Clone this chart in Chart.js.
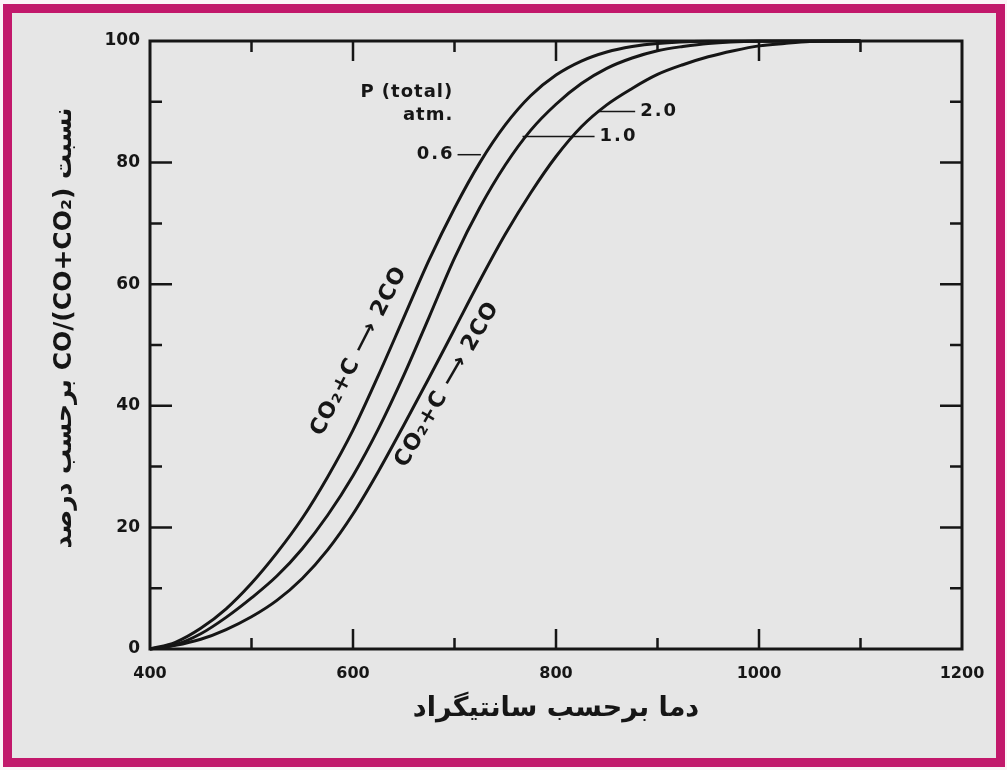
<!DOCTYPE html>
<html>
<head>
<meta charset="utf-8">
<script src="https://cdn.jsdelivr.net/npm/chart.js@4"></script>
<style>
  body { margin: 0; background: #fbf3f7; }
  #frame {
    position: absolute; left: 3px; top: 4px; width: 984px; height: 745px;
    border: 9px solid #c2186b; background: #e6e6e6;
  }
  #myChart { position: absolute; left: 0; top: 0; }
</style>
</head>
<body>
<div id="frame"></div>
<canvas id="myChart" width="1007" height="770"></canvas>
<script>
// values: temperature (C) and % CO in CO+CO2
const pressures = ["0.6", "1.0", "2.0"];

const temp06 = [400, 425, 450, 475, 500, 525, 550, 575, 600, 625, 650, 675, 700, 725, 750, 775, 800, 825, 850, 875, 900, 950, 1000, 1100];
const co06 = [0, 1.1, 3.4, 6.6, 10.8, 15.8, 21.5, 28.3, 36, 45, 54.5, 64, 72.5, 80, 86.2, 91, 94.4, 96.7, 98.2, 99.1, 99.6, 99.95, 100, 100];

const temp10 = [400, 425, 450, 475, 500, 525, 550, 575, 600, 625, 650, 675, 700, 725, 750, 775, 800, 825, 850, 875, 900, 925, 950, 1000, 1050, 1100];
const co10 = [0, 0.7, 2.5, 5.2, 8.4, 12, 16.5, 22, 28.5, 36.2, 45, 54.6, 64.3, 72.6, 79.6, 85.3, 89.6, 93, 95.5, 97.2, 98.4, 99.1, 99.6, 99.95, 100, 100];

const temp20 = [400, 425, 450, 475, 500, 525, 550, 575, 600, 625, 650, 675, 700, 725, 750, 775, 800, 825, 850, 875, 900, 925, 950, 975, 1000, 1025, 1050, 1100];
const co20 = [0, 0.6, 1.6, 3.2, 5.3, 8, 11.6, 16.3, 22.2, 29.2, 36.8, 44.6, 52.6, 60.6, 68.2, 75, 81, 85.9, 89.5, 92.2, 94.5, 96.1, 97.4, 98.4, 99.2, 99.6, 99.9, 100];

const xTicks = [400, 600, 800, 1000, 1200];
const yTicks = [0, 20, 40, 60, 80, 100];

const xTitle = "دما برحسب سانتیگراد";
const yTitle = "نسبت CO/(CO+CO₂) برحسب درصد";
const reaction = "CO₂+C ⟶ 2CO";

function toPoints(xs, ys) {
  return xs.map((x, i) => ({ x: x, y: ys[i] }));
}

const FONT = "'DejaVu Sans', sans-serif";
const INK = "#161616";

// frame with inward ticks, the y title, and the text notes on the plot
const decorations = {
  id: "decorations",
  afterDatasetsDraw(chart) {
    const { ctx, chartArea: a, scales } = chart;
    const sx = scales.x, sy = scales.y;
    ctx.save();
    ctx.strokeStyle = INK;
    ctx.lineWidth = 3;
    ctx.strokeRect(a.left, a.top, a.right - a.left, a.bottom - a.top);

    ctx.lineWidth = 2.5;
    ctx.beginPath();
    for (let v = 10; v < 100; v += 10) {
      const py = sy.getPixelForValue(v);
      const len = v % 20 === 0 ? 22 : 12;
      ctx.moveTo(a.left, py); ctx.lineTo(a.left + len, py);
      ctx.moveTo(a.right, py); ctx.lineTo(a.right - len, py);
    }
    for (let t = 500; t < 1200; t += 100) {
      const px = sx.getPixelForValue(t);
      const len = t % 200 === 0 ? 20 : 11;
      ctx.moveTo(px, a.bottom); ctx.lineTo(px, a.bottom - len);
      ctx.moveTo(px, a.top); ctx.lineTo(px, a.top + len);
    }
    ctx.stroke();

    // y axis title, persian, reading upwards
    ctx.save();
    ctx.fillStyle = INK;
    ctx.direction = "rtl";
    ctx.font = "bold 25px " + FONT;
    ctx.textAlign = "center";
    ctx.textBaseline = "middle";
    ctx.translate(64, sy.getPixelForValue(52.8));
    ctx.rotate(-Math.PI / 2);
    ctx.fillText(yTitle, 0, 0);
    ctx.restore();

    // pressure labels with leader lines
    ctx.direction = "ltr";
    ctx.fillStyle = INK;
    ctx.textBaseline = "middle";
    ctx.textAlign = "center";
    ctx.font = "bold 18px " + FONT;
    ctx.letterSpacing = "1px";
    ctx.fillText("P (total)", sx.getPixelForValue(653), sy.getPixelForValue(91.5));
    ctx.fillText("atm.", sx.getPixelForValue(674), sy.getPixelForValue(87.7));

    const leaders = [
      { label: pressures[0], from: 703, to: 726, v: 81.3, side: "left" },
      { label: pressures[1], from: 767, to: 838, v: 84.3, side: "right" },
      { label: pressures[2], from: 841, to: 878, v: 88.4, side: "right" }
    ];
    ctx.font = "bold 18px " + FONT;
    ctx.letterSpacing = "2px";
    ctx.lineWidth = 1.5;
    leaders.forEach((l) => {
      const py = sy.getPixelForValue(l.v);
      const x1 = sx.getPixelForValue(l.from), x2 = sx.getPixelForValue(l.to);
      ctx.beginPath(); ctx.moveTo(x1, py); ctx.lineTo(x2, py); ctx.stroke();
      if (l.side === "left") {
        ctx.textAlign = "right";
        ctx.fillText(l.label, x1 - 3, py);
      } else {
        ctx.textAlign = "left";
        ctx.fillText(l.label, x2 + 5, py);
      }
    });

    // reaction labels along the curves
    ctx.font = "bold 22px " + FONT;
    ctx.letterSpacing = "1px";
    ctx.textAlign = "center";
    [[606, 49, -63], [693, 43.5, -60]].forEach(([t, v, deg]) => {
      ctx.save();
      ctx.translate(sx.getPixelForValue(t), sy.getPixelForValue(v));
      ctx.rotate(deg * Math.PI / 180);
      ctx.fillText(reaction, 0, 0);
      ctx.restore();
    });
    ctx.restore();
  }
};

function makeSet(label, xs, ys) {
  return {
    label: label + " atm",
    data: toPoints(xs, ys),
    showLine: true,
    borderColor: INK,
    borderWidth: 3,
    pointRadius: 0,
    cubicInterpolationMode: "monotone",
    clip: 4
  };
}

function initChart(target) {
  return new Chart(target, {
    type: "scatter",
    data: {
      datasets: [
        makeSet(pressures[0], temp06, co06),
        makeSet(pressures[1], temp10, co10),
        makeSet(pressures[2], temp20, co20)
      ]
    },
    options: {
      responsive: false,
      animation: false,
      layout: { padding: { top: 41, right: 45, left: 0, bottom: 0 } },
      plugins: { legend: { display: false }, tooltip: { enabled: false } },
      scales: {
        x: {
          type: "linear",
          min: 400,
          max: 1200,
          afterBuildTicks: (scale) => { scale.ticks = xTicks.map((v) => ({ value: v })); },
          afterFit: (scale) => { scale.height = 121; },
          ticks: { color: INK, font: { family: FONT, size: 16, weight: "bold" }, padding: 15, maxRotation: 0, callback: (v) => String(v) },
          grid: { display: false, drawTicks: false },
          border: { display: false },
          title: { display: true, text: xTitle, color: INK, font: { family: FONT, size: 27, weight: "bold" }, padding: { top: 0, bottom: 45 } }
        },
        y: {
          min: 0,
          max: 100,
          afterBuildTicks: (scale) => { scale.ticks = yTicks.map((v) => ({ value: v })); },
          afterFit: (scale) => { scale.width = 150; },
          ticks: { color: INK, font: { family: FONT, size: 17, weight: "bold" }, padding: 10, callback: (v) => String(v) },
          grid: { display: false, drawTicks: false },
          border: { display: false },
          title: { display: false }
        }
      }
    },
    plugins: [decorations]
  });
}

document.addEventListener("DOMContentLoaded", () => {
  initChart(document.querySelector("#myChart"));
});
</script>
</body>
</html>
